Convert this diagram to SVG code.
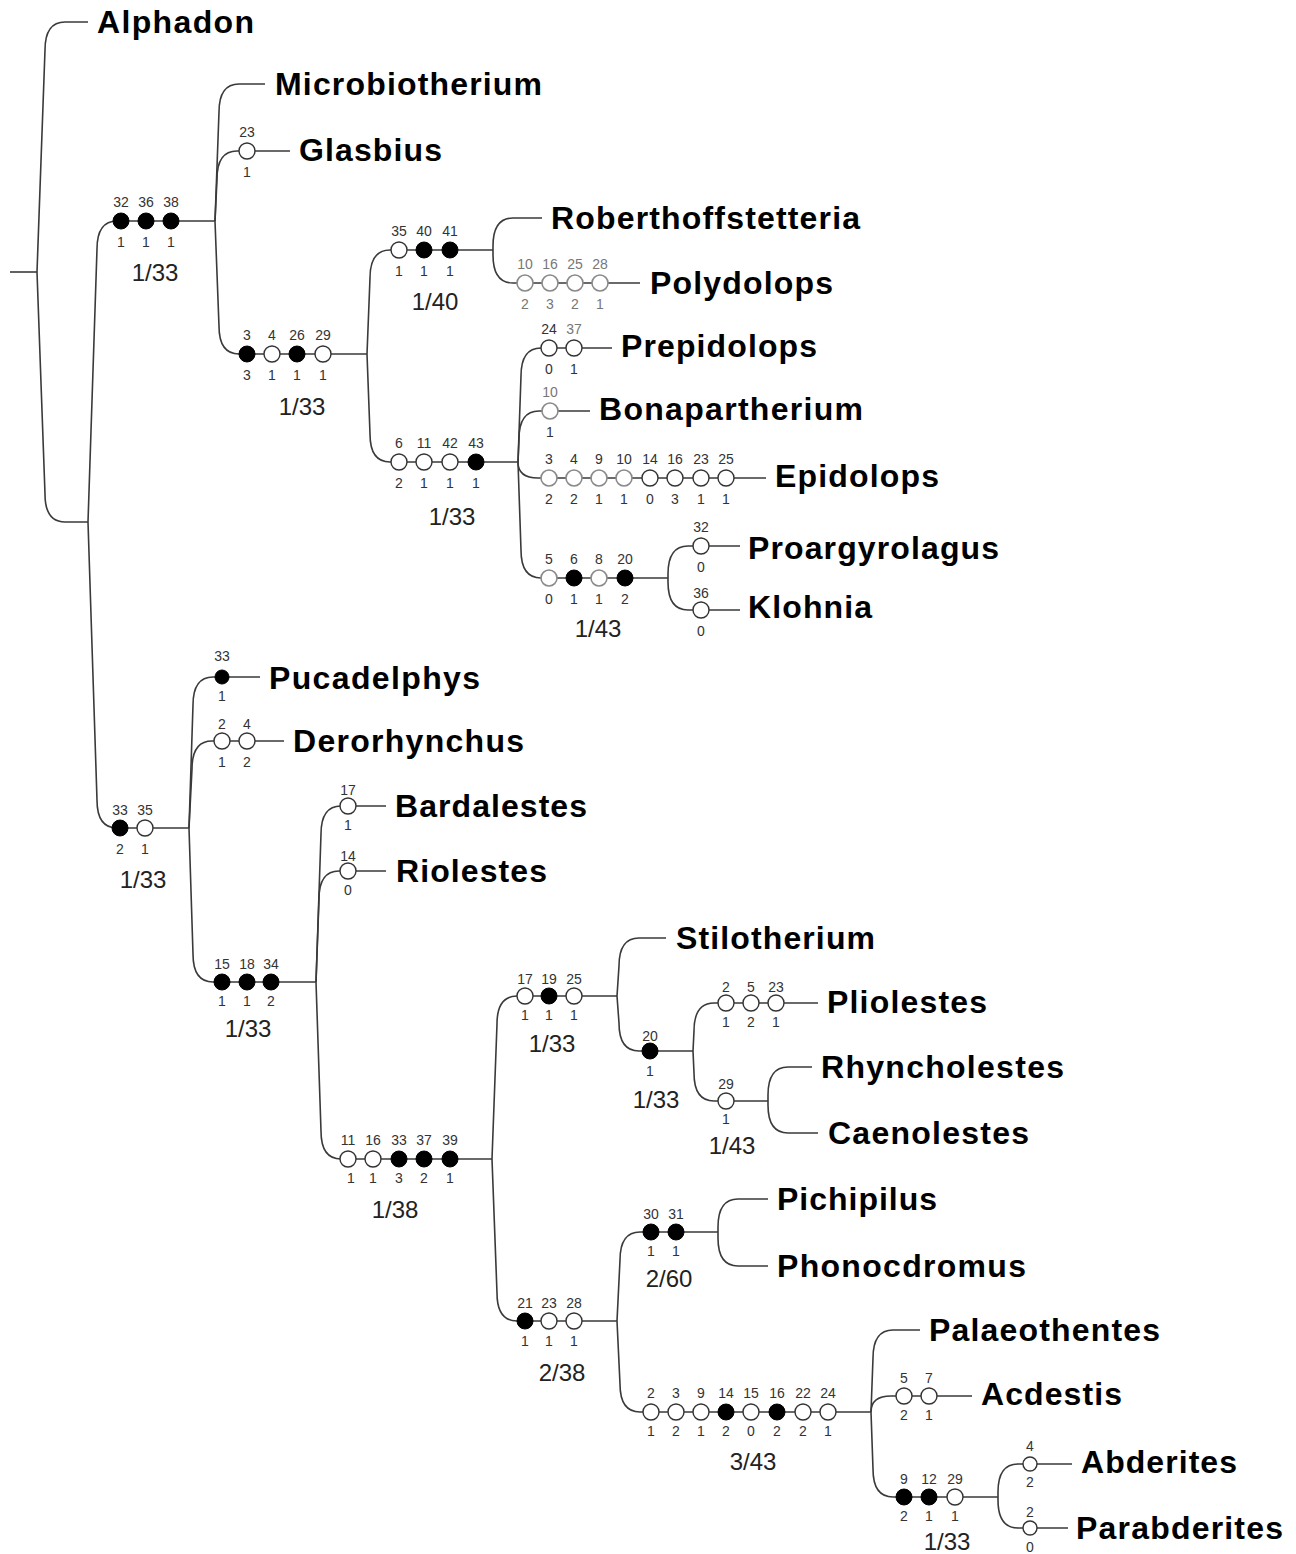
<svg xmlns="http://www.w3.org/2000/svg" width="1296" height="1554" viewBox="0 0 1296 1554">
<style>
.c{fill:none;stroke:#3a3a3a;stroke-width:1.6}
.t{font-family:"Liberation Sans",Arial,sans-serif;font-weight:bold;font-size:32px;fill:#000}
.n{font-family:"Liberation Sans",Arial,sans-serif;font-size:14px;fill:#333;text-anchor:middle}
.ng{font-family:"Liberation Sans",Arial,sans-serif;font-size:14px;fill:#777;text-anchor:middle}
.s{font-family:"Liberation Sans",Arial,sans-serif;font-size:24px;fill:#222;text-anchor:middle}
.o{fill:#fff;stroke:#333;stroke-width:1.4}
.og{fill:#fff;stroke:#8a8a8a;stroke-width:1.6}
.f{fill:#000;stroke:#000;stroke-width:1}
</style>
<rect width="1296" height="1554" fill="#fff"/>
<g id="connectors">
<path class="c" d="M10 272 L37 272"/>
<path class="c" d="M37 272 L45 50 Q45 22 65 22 L88 22"/>
<path class="c" d="M37 272 L45 494 Q45 522 65 522 L88 522"/>
<path class="c" d="M88 522 L97 249 Q97 221 117 221 L215 221"/>
<path class="c" d="M88 522 L97 800 Q97 828 117 828 L189 828"/>
<path class="c" d="M215 221 L219 112 Q219 84 239 84 L265 84"/>
<path class="c" d="M215 221 L217 179 Q217 151 237 151 L290 151"/>
<path class="c" d="M215 221 L219 326 Q219 354 239 354 L367 354"/>
<path class="c" d="M367 354 L370 278 Q370 250 390 250 L493 250"/>
<path class="c" d="M367 354 L370 434 Q370 462 390 462 L518 462"/>
<path class="c" d="M493 250 L493 246 Q493 218 513 218 L542 218"/>
<path class="c" d="M493 250 L493 255 Q493 283 513 283 L640 283"/>
<path class="c" d="M518 462 L521 376 Q521 348 541 348 L612 348"/>
<path class="c" d="M518 462 L519 439 Q519 411 539 411 L590 411"/>
<path class="c" d="M518 462 Q518 478 538 478 L766 478"/>
<path class="c" d="M518 462 L521 550 Q521 578 541 578 L668 578"/>
<path class="c" d="M668 578 L668 574 Q668 546 688 546 L740 546"/>
<path class="c" d="M668 578 L668 582 Q668 610 688 610 L740 610"/>
<path class="c" d="M189 828 L193 705 Q193 677 213 677 L260 677"/>
<path class="c" d="M189 828 L192 769 Q192 741 212 741 L284 741"/>
<path class="c" d="M189 828 L193 954 Q193 982 213 982 L316 982"/>
<path class="c" d="M316 982 L321 834 Q321 806 341 806 L386 806"/>
<path class="c" d="M316 982 L319 899 Q319 871 339 871 L386 871"/>
<path class="c" d="M316 982 L321 1131 Q321 1159 341 1159 L492 1159"/>
<path class="c" d="M492 1159 L497 1024 Q497 996 517 996 L617 996"/>
<path class="c" d="M492 1159 L497 1293 Q497 1321 517 1321 L617 1321"/>
<path class="c" d="M617 996 L619 966 Q619 938 639 938 L666 938"/>
<path class="c" d="M617 996 L619 1023 Q619 1051 639 1051 L693 1051"/>
<path class="c" d="M693 1051 L694 1031 Q694 1003 714 1003 L818 1003"/>
<path class="c" d="M693 1051 L694 1073 Q694 1101 714 1101 L768 1101"/>
<path class="c" d="M768 1101 L768 1095 Q768 1067 788 1067 L812 1067"/>
<path class="c" d="M768 1101 L768 1105 Q768 1133 788 1133 L818 1133"/>
<path class="c" d="M617 1321 L620 1260 Q620 1232 640 1232 L718 1232"/>
<path class="c" d="M617 1321 L620 1384 Q620 1412 640 1412 L871 1412"/>
<path class="c" d="M718 1232 L718 1227 Q718 1199 738 1199 L768 1199"/>
<path class="c" d="M718 1232 L718 1238 Q718 1266 738 1266 L768 1266"/>
<path class="c" d="M871 1412 L873 1358 Q873 1330 893 1330 L920 1330"/>
<path class="c" d="M871 1412 Q871 1396 891 1396 L972 1396"/>
<path class="c" d="M871 1412 L873 1469 Q873 1497 893 1497 L998 1497"/>
<path class="c" d="M998 1497 L998 1492 Q998 1464 1018 1464 L1072 1464"/>
<path class="c" d="M998 1497 L998 1500 Q998 1528 1018 1528 L1068 1528"/>
</g>
<g id="node-alphadon"><text class="t" x="97" y="33" textLength="157" lengthAdjust="spacing">Alphadon</text></g>
<g id="branch-a">
<circle class="f" cx="121" cy="221" r="8"/><circle class="f" cx="146" cy="221" r="8"/><circle class="f" cx="171" cy="221" r="8"/>
<text class="n" x="121" y="207">32</text><text class="n" x="146" y="207">36</text><text class="n" x="171" y="207">38</text>
<text class="n" x="121" y="247">1</text><text class="n" x="146" y="247">1</text><text class="n" x="171" y="247">1</text>
<text class="s" x="155" y="281">1/33</text>
</g>
<g id="node-microbiotherium"><text class="t" x="275" y="95" textLength="267" lengthAdjust="spacing">Microbiotherium</text></g>
<g id="node-glasbius">
<circle class="o" cx="247" cy="151" r="8"/><text class="n" x="247" y="137">23</text><text class="n" x="247" y="177">1</text>
<text class="t" x="299" y="161" textLength="143" lengthAdjust="spacing">Glasbius</text>
</g>
<g id="branch-b">
<circle class="f" cx="247" cy="354" r="8"/><circle class="o" cx="272" cy="354" r="8"/><circle class="f" cx="297" cy="354" r="8"/><circle class="o" cx="323" cy="354" r="8"/>
<text class="n" x="247" y="340">3</text><text class="n" x="272" y="340">4</text><text class="n" x="297" y="340">26</text><text class="n" x="323" y="340">29</text>
<text class="n" x="247" y="380">3</text><text class="n" x="272" y="380">1</text><text class="n" x="297" y="380">1</text><text class="n" x="323" y="380">1</text>
<text class="s" x="302" y="415">1/33</text>
</g>
<g id="branch-c">
<circle class="o" cx="399" cy="250" r="8"/><circle class="f" cx="424" cy="250" r="8"/><circle class="f" cx="450" cy="250" r="8"/>
<text class="n" x="399" y="236">35</text><text class="n" x="424" y="236">40</text><text class="n" x="450" y="236">41</text>
<text class="n" x="399" y="276">1</text><text class="n" x="424" y="276">1</text><text class="n" x="450" y="276">1</text>
<text class="s" x="435" y="310">1/40</text>
</g>
<g id="node-roberthoffstetteria"><text class="t" x="551" y="229" textLength="309" lengthAdjust="spacing">Roberthoffstetteria</text></g>
<g id="node-polydolops">
<circle class="og" cx="525" cy="283" r="8"/><circle class="og" cx="550" cy="283" r="8"/><circle class="og" cx="575" cy="283" r="8"/><circle class="og" cx="600" cy="283" r="8"/>
<text class="ng" x="525" y="269">10</text><text class="ng" x="550" y="269">16</text><text class="ng" x="575" y="269">25</text><text class="ng" x="600" y="269">28</text>
<text class="ng" x="525" y="309">2</text><text class="ng" x="550" y="309">3</text><text class="ng" x="575" y="309">2</text><text class="ng" x="600" y="309">1</text>
<text class="t" x="650" y="294" textLength="183" lengthAdjust="spacing">Polydolops</text>
</g>
<g id="branch-d">
<circle class="o" cx="399" cy="462" r="8"/><circle class="o" cx="424" cy="462" r="8"/><circle class="o" cx="450" cy="462" r="8"/><circle class="f" cx="476" cy="462" r="8"/>
<text class="n" x="399" y="448">6</text><text class="n" x="424" y="448">11</text><text class="n" x="450" y="448">42</text><text class="n" x="476" y="448">43</text>
<text class="n" x="399" y="488">2</text><text class="n" x="424" y="488">1</text><text class="n" x="450" y="488">1</text><text class="n" x="476" y="488">1</text>
<text class="s" x="452" y="525">1/33</text>
</g>
<g id="node-prepidolops">
<circle class="o" cx="549" cy="348" r="8"/><circle class="o" cx="574" cy="348" r="8"/>
<text class="n" x="549" y="334">24</text><text class="ng" x="574" y="334">37</text>
<text class="n" x="549" y="374">0</text><text class="n" x="574" y="374">1</text>
<text class="t" x="621" y="357" textLength="196" lengthAdjust="spacing">Prepidolops</text>
</g>
<g id="node-bonapartherium">
<circle class="og" cx="550" cy="411" r="8"/>
<text class="ng" x="550" y="397">10</text><text class="n" x="550" y="437">1</text>
<text class="t" x="599" y="420" textLength="264" lengthAdjust="spacing">Bonapartherium</text>
</g>
<g id="node-epidolops">
<circle class="og" cx="549" cy="478" r="8"/><circle class="og" cx="574" cy="478" r="8"/><circle class="og" cx="599" cy="478" r="8"/><circle class="og" cx="624" cy="478" r="8"/>
<circle class="o" cx="650" cy="478" r="8"/><circle class="o" cx="675" cy="478" r="8"/><circle class="o" cx="701" cy="478" r="8"/><circle class="o" cx="726" cy="478" r="8"/>
<text class="n" x="549" y="464">3</text><text class="n" x="574" y="464">4</text><text class="n" x="599" y="464">9</text><text class="n" x="624" y="464">10</text>
<text class="n" x="650" y="464">14</text><text class="n" x="675" y="464">16</text><text class="n" x="701" y="464">23</text><text class="n" x="726" y="464">25</text>
<text class="n" x="549" y="504">2</text><text class="n" x="574" y="504">2</text><text class="n" x="599" y="504">1</text><text class="n" x="624" y="504">1</text>
<text class="n" x="650" y="504">0</text><text class="n" x="675" y="504">3</text><text class="n" x="701" y="504">1</text><text class="n" x="726" y="504">1</text>
<text class="t" x="775" y="487" textLength="164" lengthAdjust="spacing">Epidolops</text>
</g>
<g id="branch-e">
<circle class="og" cx="549" cy="578" r="8"/><circle class="f" cx="574" cy="578" r="8"/><circle class="og" cx="599" cy="578" r="8"/><circle class="f" cx="625" cy="578" r="8"/>
<text class="n" x="549" y="564">5</text><text class="n" x="574" y="564">6</text><text class="n" x="599" y="564">8</text><text class="n" x="625" y="564">20</text>
<text class="n" x="549" y="604">0</text><text class="n" x="574" y="604">1</text><text class="n" x="599" y="604">1</text><text class="n" x="625" y="604">2</text>
<text class="s" x="598" y="637">1/43</text>
</g>
<g id="node-proargyrolagus">
<circle class="o" cx="701" cy="546" r="8"/><text class="n" x="701" y="532">32</text><text class="n" x="701" y="572">0</text>
<text class="t" x="748" y="559" textLength="251" lengthAdjust="spacing">Proargyrolagus</text>
</g>
<g id="node-klohnia">
<circle class="o" cx="701" cy="610" r="8"/><text class="n" x="701" y="598">36</text><text class="n" x="701" y="636">0</text>
<text class="t" x="748" y="618" textLength="124" lengthAdjust="spacing">Klohnia</text>
</g>
<g id="branch-f">
<circle class="f" cx="120" cy="828" r="8"/><circle class="o" cx="145" cy="828" r="8"/>
<text class="n" x="120" y="815">33</text><text class="n" x="145" y="815">35</text>
<text class="n" x="120" y="854">2</text><text class="n" x="145" y="854">1</text>
<text class="s" x="143" y="888">1/33</text>
</g>
<g id="node-pucadelphys">
<circle class="f" cx="222" cy="677" r="7"/><text class="n" x="222" y="661">33</text><text class="n" x="222" y="701">1</text>
<text class="t" x="269" y="689" textLength="211" lengthAdjust="spacing">Pucadelphys</text>
</g>
<g id="node-derorhynchus">
<circle class="o" cx="222" cy="741" r="8"/><circle class="o" cx="247" cy="741" r="8"/>
<text class="n" x="222" y="729">2</text><text class="n" x="247" y="729">4</text>
<text class="n" x="222" y="767">1</text><text class="n" x="247" y="767">2</text>
<text class="t" x="293" y="752" textLength="231" lengthAdjust="spacing">Derorhynchus</text>
</g>
<g id="branch-g">
<circle class="f" cx="222" cy="982" r="8"/><circle class="f" cx="247" cy="982" r="8"/><circle class="f" cx="271" cy="982" r="8"/>
<text class="n" x="222" y="969">15</text><text class="n" x="247" y="969">18</text><text class="n" x="271" y="969">34</text>
<text class="n" x="222" y="1006">1</text><text class="n" x="247" y="1006">1</text><text class="n" x="271" y="1006">2</text>
<text class="s" x="248" y="1037">1/33</text>
</g>
<g id="node-bardalestes">
<circle class="o" cx="348" cy="806" r="8"/><text class="n" x="348" y="795">17</text><text class="n" x="348" y="830">1</text>
<text class="t" x="395" y="817" textLength="192" lengthAdjust="spacing">Bardalestes</text>
</g>
<g id="node-riolestes">
<circle class="o" cx="348" cy="871" r="8"/><text class="n" x="348" y="861">14</text><text class="n" x="348" y="895">0</text>
<text class="t" x="396" y="882" textLength="151" lengthAdjust="spacing">Riolestes</text>
</g>
<g id="branch-h">
<circle class="o" cx="348" cy="1159" r="8"/><circle class="o" cx="373" cy="1159" r="8"/><circle class="f" cx="399" cy="1159" r="8"/><circle class="f" cx="424" cy="1159" r="8"/><circle class="f" cx="450" cy="1159" r="8"/>
<text class="n" x="348" y="1145">11</text><text class="n" x="373" y="1145">16</text><text class="n" x="399" y="1145">33</text><text class="n" x="424" y="1145">37</text><text class="n" x="450" y="1145">39</text>
<text class="n" x="351" y="1183">1</text><text class="n" x="373" y="1183">1</text><text class="n" x="399" y="1183">3</text><text class="n" x="424" y="1183">2</text><text class="n" x="450" y="1183">1</text>
<text class="s" x="395" y="1218">1/38</text>
</g>
<g id="branch-i">
<circle class="o" cx="525" cy="996" r="8"/><circle class="f" cx="549" cy="996" r="8"/><circle class="o" cx="574" cy="996" r="8"/>
<text class="n" x="525" y="984">17</text><text class="n" x="549" y="984">19</text><text class="n" x="574" y="984">25</text>
<text class="n" x="525" y="1020">1</text><text class="n" x="549" y="1020">1</text><text class="n" x="574" y="1020">1</text>
<text class="s" x="552" y="1052">1/33</text>
</g>
<g id="node-stilotherium"><text class="t" x="676" y="949" textLength="199" lengthAdjust="spacing">Stilotherium</text></g>
<g id="branch-j">
<circle class="f" cx="650" cy="1051" r="8"/><text class="n" x="650" y="1041">20</text><text class="n" x="650" y="1076">1</text>
<text class="s" x="656" y="1108">1/33</text>
</g>
<g id="node-pliolestes">
<circle class="o" cx="726" cy="1003" r="8"/><circle class="o" cx="751" cy="1003" r="8"/><circle class="o" cx="776" cy="1003" r="8"/>
<text class="n" x="726" y="992">2</text><text class="n" x="751" y="992">5</text><text class="n" x="776" y="992">23</text>
<text class="n" x="726" y="1027">1</text><text class="n" x="751" y="1027">2</text><text class="n" x="776" y="1027">1</text>
<text class="t" x="827" y="1013" textLength="160" lengthAdjust="spacing">Pliolestes</text>
</g>
<g id="branch-k">
<circle class="o" cx="726" cy="1101" r="8"/><text class="n" x="726" y="1089">29</text><text class="n" x="726" y="1124">1</text>
<text class="s" x="732" y="1154">1/43</text>
</g>
<g id="node-rhyncholestes"><text class="t" x="821" y="1078" textLength="243" lengthAdjust="spacing">Rhyncholestes</text></g>
<g id="node-caenolestes"><text class="t" x="828" y="1144" textLength="201" lengthAdjust="spacing">Caenolestes</text></g>
<g id="branch-l">
<circle class="f" cx="651" cy="1232" r="8"/><circle class="f" cx="676" cy="1232" r="8"/>
<text class="n" x="651" y="1219">30</text><text class="n" x="676" y="1219">31</text>
<text class="n" x="651" y="1256">1</text><text class="n" x="676" y="1256">1</text>
<text class="s" x="669" y="1287">2/60</text>
</g>
<g id="node-pichipilus"><text class="t" x="777" y="1210" textLength="160" lengthAdjust="spacing">Pichipilus</text></g>
<g id="node-phonocdromus"><text class="t" x="777" y="1277" textLength="249" lengthAdjust="spacing">Phonocdromus</text></g>
<g id="branch-m">
<circle class="f" cx="525" cy="1321" r="8"/><circle class="o" cx="549" cy="1321" r="8"/><circle class="o" cx="574" cy="1321" r="8"/>
<text class="n" x="525" y="1308">21</text><text class="n" x="549" y="1308">23</text><text class="n" x="574" y="1308">28</text>
<text class="n" x="525" y="1346">1</text><text class="n" x="549" y="1346">1</text><text class="n" x="574" y="1346">1</text>
<text class="s" x="562" y="1381">2/38</text>
</g>
<g id="branch-n">
<circle class="o" cx="651" cy="1412" r="8"/><circle class="o" cx="676" cy="1412" r="8"/><circle class="o" cx="701" cy="1412" r="8"/><circle class="f" cx="726" cy="1412" r="8"/>
<circle class="o" cx="751" cy="1412" r="8"/><circle class="f" cx="777" cy="1412" r="8"/><circle class="o" cx="803" cy="1412" r="8"/><circle class="o" cx="828" cy="1412" r="8"/>
<text class="n" x="651" y="1398">2</text><text class="n" x="676" y="1398">3</text><text class="n" x="701" y="1398">9</text><text class="n" x="726" y="1398">14</text>
<text class="n" x="751" y="1398">15</text><text class="n" x="777" y="1398">16</text><text class="n" x="803" y="1398">22</text><text class="n" x="828" y="1398">24</text>
<text class="n" x="651" y="1436">1</text><text class="n" x="676" y="1436">2</text><text class="n" x="701" y="1436">1</text><text class="n" x="726" y="1436">2</text>
<text class="n" x="751" y="1436">0</text><text class="n" x="777" y="1436">2</text><text class="n" x="803" y="1436">2</text><text class="n" x="828" y="1436">1</text>
<text class="s" x="753" y="1470">3/43</text>
</g>
<g id="node-palaeothentes"><text class="t" x="929" y="1341" textLength="231" lengthAdjust="spacing">Palaeothentes</text></g>
<g id="node-acdestis">
<circle class="o" cx="904" cy="1396" r="8"/><circle class="o" cx="929" cy="1396" r="8"/>
<text class="n" x="904" y="1383">5</text><text class="n" x="929" y="1383">7</text>
<text class="n" x="904" y="1420">2</text><text class="n" x="929" y="1420">1</text>
<text class="t" x="981" y="1405" textLength="141" lengthAdjust="spacing">Acdestis</text>
</g>
<g id="branch-o">
<circle class="f" cx="904" cy="1497" r="8"/><circle class="f" cx="929" cy="1497" r="8"/><circle class="o" cx="955" cy="1497" r="8"/>
<text class="n" x="904" y="1484">9</text><text class="n" x="929" y="1484">12</text><text class="n" x="955" y="1484">29</text>
<text class="n" x="904" y="1521">2</text><text class="n" x="929" y="1521">1</text><text class="n" x="955" y="1521">1</text>
<text class="s" x="947" y="1550">1/33</text>
</g>
<g id="node-abderites">
<circle class="o" cx="1030" cy="1464" r="7"/><text class="n" x="1030" y="1451">4</text><text class="n" x="1030" y="1487">2</text>
<text class="t" x="1081" y="1473" textLength="156" lengthAdjust="spacing">Abderites</text>
</g>
<g id="node-parabderites">
<circle class="o" cx="1030" cy="1528" r="7"/><text class="n" x="1030" y="1517">2</text><text class="n" x="1030" y="1552">0</text>
<text class="t" x="1076" y="1539" textLength="207" lengthAdjust="spacing">Parabderites</text>
</g>
</svg>
